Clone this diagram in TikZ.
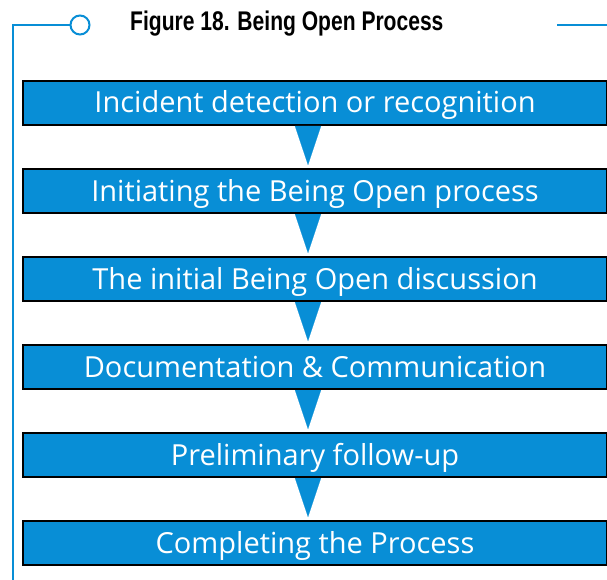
\documentclass[tikz,border=0pt]{standalone}
\usepackage{fontspec}
\usepackage{xcolor}
\usetikzlibrary{positioning, arrows.meta}
\newfontfamily\titlefont{Liberation Sans}
\newfontfamily\boxfont{Open Sans}
\definecolor{stepblue}{RGB}{8,142,214}
\newcommand{\narrowtitle}[1]{\scalebox{0.78}[1]{\titlefont\bfseries\fontsize{27}{29}\selectfont #1}}

\begin{document}
\begin{tikzpicture}[
			x=1pt, y=-1pt,
			StepBox/.style={
				draw=black, line width=2pt, fill=stepblue,
				minimum width=584pt, minimum height=44pt,
				inner sep=0pt, outer sep=0pt,
				text height=20pt, text depth=0pt,
				text=white, font=\boxfont\fontsize{29}{31}\selectfont
			},
			FlowArrow/.style={
				draw=stepblue, line width=0.1pt,
				-{Triangle[length=39pt, width=26pt]}
			},
			Frame/.style={draw=stepblue, line width=2pt}
			]
			
			\useasboundingbox (0,0) rectangle (607,580);
			
			% frame with title
			\coordinate (FrameTop) at (13,25);
			\coordinate (FrameBottom) at (13,580);
			\coordinate (RuleL) at (557,25);
			\coordinate (RuleR) at (607,25);
			\node [circle, Frame, fill=white, minimum size=19pt, inner sep=0pt] (KNOB) at (80,25) {};
			\node [anchor=base west, inner sep=0pt] (TITLE) at (130,31) {\narrowtitle{Figure 18. Being Open Process}};
			
			\draw [Frame]
			(FrameBottom) -- (FrameTop) -- (KNOB.west)
			(RuleL) -- (RuleR);
			
			% process steps
			\path
			(315,103) node [StepBox] (S1) {Incident detection or recognition}
			node [StepBox, below=44pt of S1] (S2) {Initiating the Being Open process}
			node [StepBox, below=44pt of S2] (S3) {The initial Being Open discussion}
			node [StepBox, below=44pt of S3] (S4) {Documentation \& Communication}
			node [StepBox, below=44pt of S4] (S5) {Preliminary follow-up}
			node [StepBox, below=44pt of S5] (S6) {Completing the Process};
			
			\foreach \a/\b in {S1/S2, S2/S3, S3/S4, S4/S5, S5/S6}
			\draw [FlowArrow] ([xshift=-7pt, yshift=-1pt]\a.south) -- ([xshift=-7pt, yshift=4pt]\b.north);
		\end{tikzpicture}
\end{document}
